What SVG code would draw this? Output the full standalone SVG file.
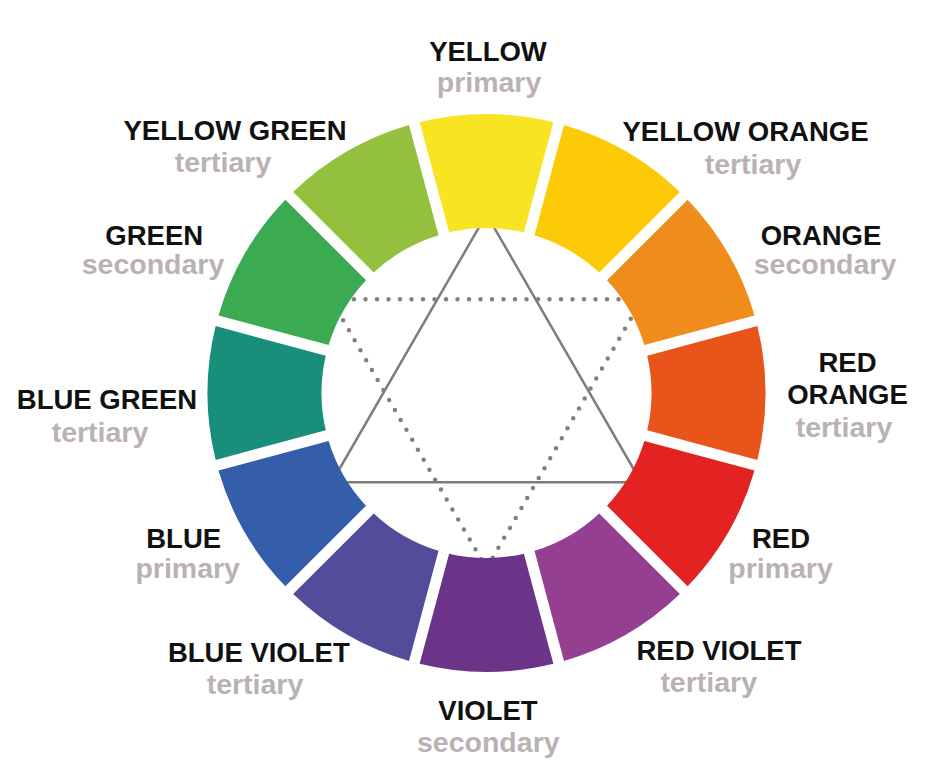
<svg xmlns="http://www.w3.org/2000/svg" xmlns:xlink="http://www.w3.org/1999/xlink" width="942" height="773" viewBox="0 0 942 773">
<style>
.name{font-family:"Liberation Sans",Arial,Helvetica,sans-serif;font-weight:bold;font-size:27.5px;fill:#111111;text-anchor:middle}
.kind{font-family:"Liberation Sans",Arial,Helvetica,sans-serif;font-weight:bold;font-size:28.5px;fill:#BAB2B2;text-anchor:middle}
.solid{fill:none;stroke:#7D7D7D;stroke-width:2.5;stroke-linejoin:miter}
.dotted{fill:none;stroke:#808080;stroke-width:4.5;stroke-linecap:round;stroke-dasharray:0 11.5}
</style>
<defs>
<path id="seg" d="M419.62,122.15 A279,279 0 0 1 553.38,122.15 L523.87,232.29 A165,165 0 0 0 449.13,232.29 Z"/>
</defs>
<rect width="942" height="773" fill="#FFFFFF"/>
<g id="connectors">
<path class="solid" d="M486.5,214.3 L641.26,482.35 L331.74,482.35 Z"/>
<path class="dotted" d="M331,299.3 L642,299.3 L486.5,568.5 Z"/>
</g>
<g id="yellow">
<use xlink:href="#seg" href="#seg" fill="#F9E424"/>
<text class="name" x="488" y="61">YELLOW</text>
<text class="kind" x="489" y="92">primary</text>
</g>
<g id="yellow-orange">
<use xlink:href="#seg" href="#seg" fill="#FCCA07" transform="rotate(30 486.5 393)"/>
<text class="name" x="745.5" y="140.5">YELLOW ORANGE</text>
<text class="kind" x="753" y="174">tertiary</text>
</g>
<g id="orange">
<use xlink:href="#seg" href="#seg" fill="#F08C1C" transform="rotate(60 486.5 393)"/>
<text class="name" x="821" y="244.5">ORANGE</text>
<text class="kind" x="825" y="274">secondary</text>
</g>
<g id="red-orange">
<use xlink:href="#seg" href="#seg" fill="#E8541A" transform="rotate(90 486.5 393)"/>
<text class="name" x="847.5" y="371.7">RED</text>
<text class="name" x="847.5" y="404">ORANGE</text>
<text class="kind" x="844" y="437.3">tertiary</text>
</g>
<g id="red">
<use xlink:href="#seg" href="#seg" fill="#E32321" transform="rotate(120 486.5 393)"/>
<text class="name" x="781" y="548.3">RED</text>
<text class="kind" x="780.5" y="578">primary</text>
</g>
<g id="red-violet">
<use xlink:href="#seg" href="#seg" fill="#943F8F" transform="rotate(150 486.5 393)"/>
<text class="name" x="719" y="660">RED VIOLET</text>
<text class="kind" x="708.7" y="692">tertiary</text>
</g>
<g id="violet">
<use xlink:href="#seg" href="#seg" fill="#6B3488" transform="rotate(180 486.5 393)"/>
<text class="name" x="488" y="720">VIOLET</text>
<text class="kind" x="488.3" y="752">secondary</text>
</g>
<g id="blue-violet">
<use xlink:href="#seg" href="#seg" fill="#534C9B" transform="rotate(210 486.5 393)"/>
<text class="name" x="258.8" y="662.3">BLUE VIOLET</text>
<text class="kind" x="255" y="694">tertiary</text>
</g>
<g id="blue">
<use xlink:href="#seg" href="#seg" fill="#345EA9" transform="rotate(240 486.5 393)"/>
<text class="name" x="183.7" y="548.3">BLUE</text>
<text class="kind" x="187.7" y="578">primary</text>
</g>
<g id="blue-green">
<use xlink:href="#seg" href="#seg" fill="#188E7B" transform="rotate(270 486.5 393)"/>
<text class="name" x="107" y="409.3">BLUE GREEN</text>
<text class="kind" x="100" y="441.7">tertiary</text>
</g>
<g id="green">
<use xlink:href="#seg" href="#seg" fill="#3BAA52" transform="rotate(300 486.5 393)"/>
<text class="name" x="154.2" y="245">GREEN</text>
<text class="kind" x="153" y="274">secondary</text>
</g>
<g id="yellow-green">
<use xlink:href="#seg" href="#seg" fill="#93C13E" transform="rotate(330 486.5 393)"/>
<text class="name" x="235" y="139.5">YELLOW GREEN</text>
<text class="kind" x="223" y="172">tertiary</text>
</g>
</svg>
